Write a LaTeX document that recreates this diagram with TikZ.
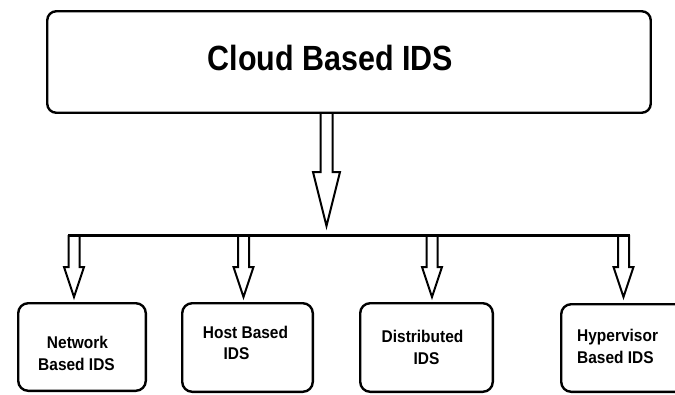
\documentclass[tikz,border=0pt]{standalone}
\usepackage{fontspec}
\newfontfamily\titlefont[FakeStretch=0.87]{Liberation Sans}
\newfontfamily\labelfont[FakeStretch=0.91]{Liberation Sans}
\begin{document}
\begin{tikzpicture}[x=1pt,y=-1pt,
  boxshape/.style={draw=black, line width=2.4pt, rounded corners=10pt, inner sep=0pt},
  arrowline/.style={draw=black, line width=2pt, line join=miter},
  busline/.style={draw=black, line width=3pt},
  titletext/.style={font=\titlefont\bfseries\fontsize{35}{40}\selectfont, inner sep=0pt, anchor=base},
  lbl/.style={font=\labelfont\bfseries\fontsize{17}{20}\selectfont, inner sep=0pt, anchor=base},
  lblw/.style={lbl, anchor=base west},
]
\useasboundingbox (0,0) rectangle (675,394);
\clip (0,0) rectangle (675,394);

% top box
\node[boxshape, rounded corners=9pt, minimum width=603.5pt, minimum height=101.5pt] (cloud) at (349,62) {};
\node[titletext] (cloudtext) at (330.5,70) {Cloud Based IDS};

% bottom boxes
\node[boxshape, minimum width=127.6pt, minimum height=87.6pt] (net) at (82,347) {};
\node[boxshape, minimum width=130.6pt, minimum height=88.6pt] (host) at (247.5,347.5) {};
\node[boxshape, minimum width=132.6pt, minimum height=88.6pt] (dist) at (426.5,347.5) {};
\node[boxshape, minimum width=124.6pt, minimum height=87.6pt] (hyp) at (623.5,348) {};

% labels
\node[lbl] (netA) at (77.5,348) {Network};
\node[lbl] (netB) at (76.5,370) {Based IDS};
\node[lbl] (hostA) at (245.5,338) {Host Based};
\node[lbl] (hostB) at (236.5,359) {IDS};
\node[lbl] (distA) at (422.5,342) {Distributed};
\node[lbl] (distB) at (426.5,364) {IDS};
\node[lblw] (hypA) at (577,341) {Hypervisor};
\node[lblw] (hypB) at (577,363) {Based IDS};

% main block arrow
\draw[arrowline] (320.5,114) -- (320.5,172) -- (313,172) -- (326.5,226)
  -- (340,172) -- (332.5,172) -- (332.5,114);

% branch block arrows
\foreach \c in {74,243.5,432,623.5}
  \draw[arrowline] ({\c-5.5},235) -- ({\c-5.5},267) -- ({\c-10},267) -- (\c,297)
    -- ({\c+10},267) -- ({\c+5.5},267) -- ({\c+5.5},235);

% bus line
\coordinate (busL) at (68,235);
\coordinate (busR) at (630,235);
\draw[busline] (busL) -- (busR);
\end{tikzpicture}
\end{document}
